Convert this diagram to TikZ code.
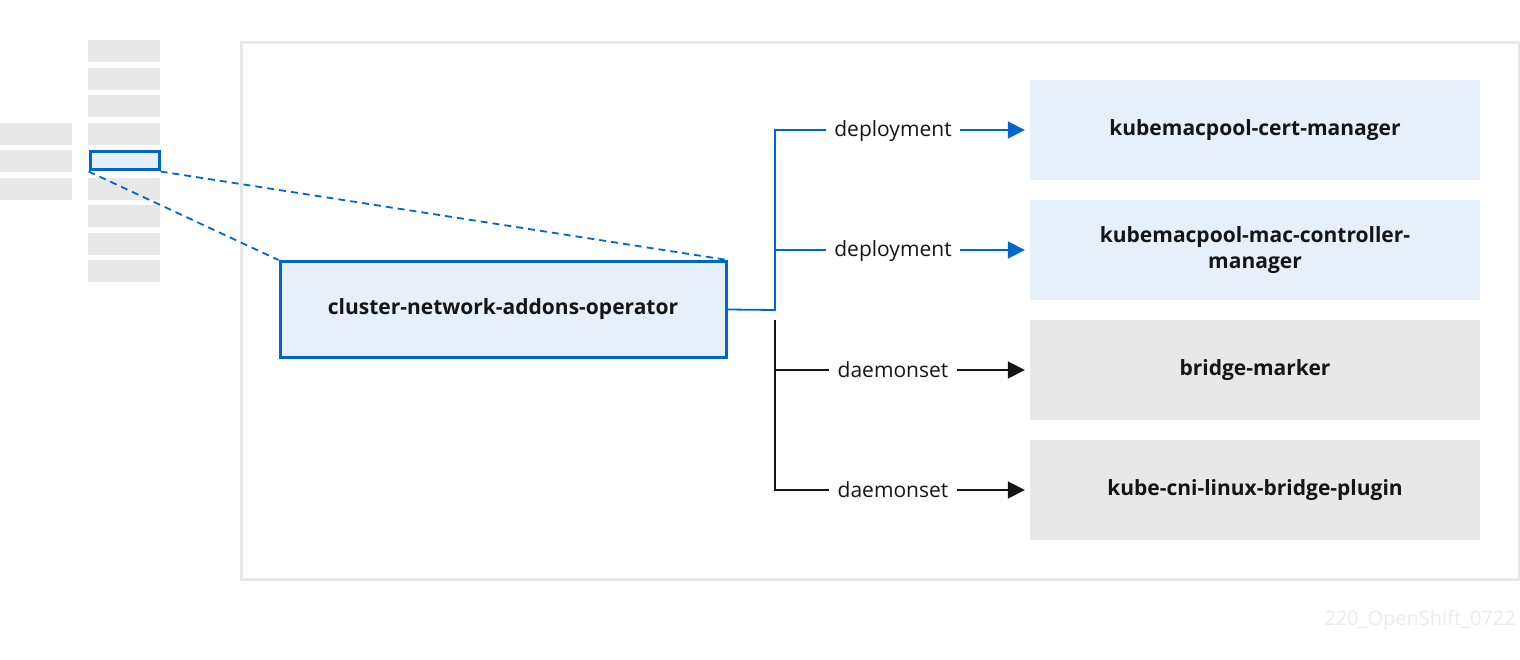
\documentclass[tikz,border=0pt]{standalone}
\usepackage{fontspec}
\setmainfont{Open Sans}
\usetikzlibrary{arrows.meta}
\definecolor{rhblue}{HTML}{0066CC}
\definecolor{lightblue}{HTML}{E5F0FA}
\definecolor{lightgray}{HTML}{E8E8E8}
\definecolor{darktext}{HTML}{151515}
\definecolor{wmgray}{HTML}{EBEBEB}
\tikzset{
  stub/.style={fill=lightgray, draw=none, minimum width=72, minimum height=22, inner sep=0, anchor=north west},
  target/.style={minimum width=450, minimum height=100, inner sep=0, text=darktext, font=\fontsize{21}{26}\selectfont\bfseries, align=center},
  bluetarget/.style={target, fill=lightblue},
  graytarget/.style={target, fill=lightgray},
  lbl/.style={inner sep=8, text height=18, text depth=4, text=darktext, font=\fontsize{21}{26}\selectfont},
  blueline/.style={draw=rhblue, line width=1.8},
  blackline/.style={draw=darktext, line width=1.8},
  tip/.style={-{Triangle[length=17,width=17]}, shorten >=5},
}
\begin{document}
\begin{tikzpicture}[x=1pt,y=-1pt]
\useasboundingbox (0,0) rectangle (1520,660);
% outer frame
\node[draw=lightgray, line width=3, minimum width=1278, minimum height=537, inner sep=0, anchor=north west] (frame) at (239.5,41) {};
% left stubs
\foreach \i/\y in {1/40,2/68,3/95,4/123,6/178,7/205,8/233,9/260}{
  \node[stub] (s\i) at (88,\y) {};
}
\foreach \i/\y in {1/123,2/150,3/178}{
  \node[stub] (l\i) at (0,\y) {};
}
\node[draw=rhblue, fill=lightblue, line width=3, minimum width=69, minimum height=18, inner sep=0, anchor=center] (sel) at (124.5,161) {};
% main node
\node[draw=rhblue, fill=lightblue, line width=3, minimum width=446, minimum height=96, inner sep=0, text=darktext, font=\fontsize{21}{26}\selectfont\bfseries] (main) at (503,309.5) {cluster-network-addons-operator};
% dashed zoom lines
\draw[rhblue, line width=1.8, dash pattern=on 7 off 5] (sel.south west) -- (main.north west);
\draw[rhblue, line width=1.8, dash pattern=on 7 off 5] (sel.south east) -- (main.north east);
% targets
\node[bluetarget] (t1) at (1255,130) {kubemacpool-cert-manager};
\node[bluetarget] (t2) at (1255,250) {kubemacpool-mac-controller-\\manager};
\node[graytarget] (t3) at (1255,370) {bridge-marker};
\node[graytarget] (t4) at (1255,490) {kube-cni-linux-bridge-plugin};
% labels
\node[lbl] (d1) at (893,130) {deployment};
\node[lbl] (d2) at (893,250) {deployment};
\node[lbl] (d3) at (893,370) {daemonset};
\node[lbl] (d4) at (893,490) {daemonset};
% junctions
\coordinate (jb) at (775,310);
\coordinate (jk) at (775,320);
% blue connectors
\draw[blueline] (main.east) -- (jb) |- (d1.west);
\draw[blueline] (jb |- d2.west) -- (d2.west);
\draw[blueline, tip] (d1.east) -- (t1.west);
\draw[blueline, tip] (d2.east) -- (t2.west);
% black connectors
\draw[blackline] (jk) |- (d4.west);
\draw[blackline] (jk |- d3.west) -- (d3.west);
\draw[blackline, tip] (d3.east) -- (t3.west);
\draw[blackline, tip] (d4.east) -- (t4.west);
% watermark
\node[text=wmgray, font=\fontsize{20}{24}\selectfont, anchor=east, inner sep=0] (wm) at (1516,620) {220\_OpenShift\_0722};
\end{tikzpicture}
\end{document}
